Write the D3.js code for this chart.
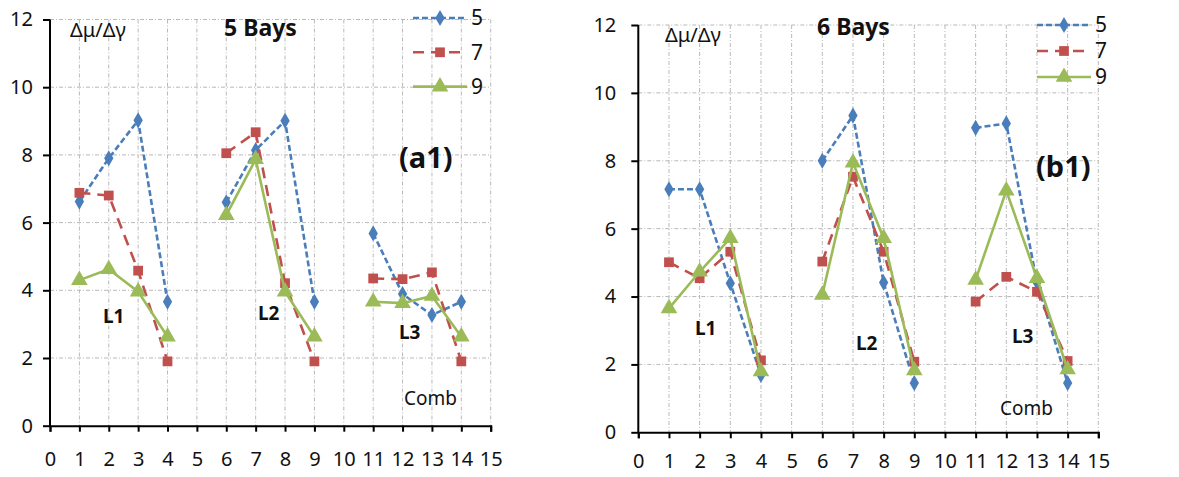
<!DOCTYPE html>
<html lang="en">
<head>
<meta charset="UTF-8">
<script src="https://d3js.org/d3.v7.min.js"></script>
<style>
body { margin: 0; background: #fff; }
svg { font-family: "Noto Sans", "DejaVu Sans", sans-serif; }
.gridlines line { stroke: #b9b9b9; stroke-width: 1; stroke-dasharray: 4,2,1,2; }
.axis path, .axis line { stroke: #000; stroke-width: 2; }
.axis text { font-size: 20px; fill: #111; font-family: "Noto Sans", sans-serif; }
.note { fill: #111; }
</style>
<title>5 Bays / 6 Bays</title>
</head>
<body>
<svg class="chart" width="1179" height="477"></svg>
<script>
// x positions (5 and 10 are gaps between the groups L1, L2, L3)
const xVals = [1, 2, 3, 4, 5, 6, 7, 8, 9, 10, 11, 12, 13, 14];
const xTicks = d3.range(0, 16);
const yTicks = [0, 2, 4, 6, 8, 10, 12];
const seriesNames = ['5', '7', '9'];

// 5 Bays (a1)
const a1_s5 = [6.62, 7.9, 9.02, 3.66, null, 6.6, 8.14, 9.01, 3.66, null, 5.68, 3.89, 3.27, 3.66];
const a1_s7 = [6.88, 6.8, 4.58, 1.9, null, 8.05, 8.67, 4.21, 1.9, null, 4.35, 4.33, 4.53, 1.9];
const a1_s9 = [4.3, 4.62, 3.96, 2.63, null, 6.22, 7.87, 3.96, 2.63, null, 3.66, 3.62, 3.83, 2.63];

// 6 Bays (b1)
const b1_s5 = [7.16, 7.16, 4.39, 1.69, null, 8.0, 9.33, 4.41, 1.45, null, 8.97, 9.1, 4.42, 1.45];
const b1_s7 = [5.01, 4.54, 5.32, 2.12, null, 5.03, 7.53, 5.32, 2.08, null, 3.85, 4.58, 4.14, 2.1];
const b1_s9 = [3.65, 4.73, 5.72, 1.79, null, 4.05, 7.94, 5.72, 1.82, null, 4.49, 7.12, 4.54, 1.85];

const colors = ['#4a7ebb', '#c0504d', '#9bbb59'];
const dashes = ['6,3', '11,7', null];
const symbols = [d3.symbolDiamond, d3.symbolSquare, d3.symbolTriangle];
const symSizes = [75, 95, 120];

let svg = d3.select('.chart');

let drawPanel = (opt) => {
    let g = svg.append('g').attr('transform', 'translate(' + opt.left + ',' + opt.top + ')');
    let x = d3.scaleLinear().domain([0, 15]).range([0, opt.width]);
    let y = d3.scaleLinear().domain([0, 12]).range([opt.height, 0]);

    // grid
    g.append('g').attr('class', 'gridlines')
        .selectAll('line').data(xTicks.slice(1)).enter().append('line')
        .attr('x1', d => x(d)).attr('x2', d => x(d))
        .attr('y1', 0).attr('y2', opt.height);
    g.append('g').attr('class', 'gridlines')
        .selectAll('line').data(yTicks.slice(1)).enter().append('line')
        .attr('x1', 0).attr('x2', opt.width)
        .attr('y1', d => y(d)).attr('y2', d => y(d));

    // axes
    g.append('g').attr('class', 'axis')
        .attr('transform', 'translate(0,' + opt.height + ')')
        .call(d3.axisBottom(x).tickValues(xTicks).tickSize(6).tickSizeOuter(6).tickPadding(opt.xPad))
        .call(a => a.selectAll('text').attr('dy', '0.74em'));
    g.append('g').attr('class', 'axis')
        .call(d3.axisLeft(y).tickValues(yTicks).tickSize(7).tickSizeOuter(0).tickPadding(opt.yPad))
        .call(a => a.select('.domain').attr('d', 'M0,0V' + opt.height));

    // series
    opt.series.forEach((vals, i) => {
        let pts = xVals.map((xv, j) => ({ x: xv, v: vals[j] }));
        let line = d3.line().defined(d => d.v !== null).x(d => x(d.x)).y(d => y(d.v));
        g.append('path').datum(pts)
            .attr('fill', 'none')
            .attr('stroke', colors[i])
            .attr('stroke-width', 2.6)
            .attr('stroke-dasharray', dashes[i])
            .attr('d', line);
        g.selectAll('.m' + i).data(pts.filter(d => d.v !== null)).enter()
            .append('path').attr('class', 'm' + i)
            .attr('transform', d => 'translate(' + x(d.x) + ',' + y(d.v) + ')')
            .attr('d', d3.symbol().type(symbols[i]).size(symSizes[i]))
            .attr('fill', colors[i]);
    });

    // legend
    seriesNames.forEach((name, i) => {
        let ly = opt.legend.y + i * opt.legend.step;
        let lg = svg.append('g');
        lg.append('line')
            .attr('x1', opt.legend.x).attr('x2', opt.legend.x + 54)
            .attr('y1', ly).attr('y2', ly)
            .attr('stroke', colors[i]).attr('stroke-width', 2.6)
            .attr('stroke-dasharray', dashes[i]);
        lg.append('path')
            .attr('transform', 'translate(' + (opt.legend.x + 27) + ',' + ly + ')')
            .attr('d', d3.symbol().type(symbols[i]).size(symSizes[i]))
            .attr('fill', colors[i]);
        lg.append('text')
            .attr('x', opt.legend.x + 58).attr('y', ly)
            .attr('dy', '0.35em')
            .attr('font-size', 21).attr('fill', '#111')
            .text(name);
    });

    // notes
    opt.notes.forEach(n => {
        svg.append('text').attr('class', 'note')
            .attr('x', n.x).attr('y', n.y).attr('dy', '0.35em')
            .attr('font-size', n.size)
            .attr('font-weight', n.bold ? 'bold' : 'normal')
            .text(n.text);
    });
};

drawPanel({
    left: 50, top: 19.5, width: 440.7, height: 406.2, xPad: 20, yPad: 10,
    series: [a1_s5, a1_s7, a1_s9],
    legend: { x: 413, y: 18, step: 34.3 },
    notes: [
        { text: 'Δμ/Δγ', x: 70, y: 30, size: 20 },
        { text: '5 Bays', x: 224, y: 28, size: 23, bold: true },
        { text: '(a1)', x: 399, y: 158, size: 29, bold: true },
        { text: 'L1', x: 103, y: 316, size: 19, bold: true },
        { text: 'L2', x: 258, y: 313, size: 19, bold: true },
        { text: 'L3', x: 399, y: 332, size: 19, bold: true },
        { text: 'Comb', x: 404, y: 398, size: 19 }
    ]
});

drawPanel({
    left: 638.3, top: 25, width: 460, height: 407.3, xPad: 15, yPad: 15,
    series: [b1_s5, b1_s7, b1_s9],
    legend: { x: 1037, y: 25, step: 26 },
    notes: [
        { text: 'Δμ/Δγ', x: 665, y: 35, size: 20 },
        { text: '6 Bays', x: 817, y: 27, size: 23, bold: true },
        { text: '(b1)', x: 1036, y: 167, size: 29, bold: true },
        { text: 'L1', x: 695, y: 328, size: 19, bold: true },
        { text: 'L2', x: 856, y: 343, size: 19, bold: true },
        { text: 'L3', x: 1012, y: 336, size: 19, bold: true },
        { text: 'Comb', x: 1000, y: 408, size: 19 }
    ]
});
</script>
</body>
</html>
